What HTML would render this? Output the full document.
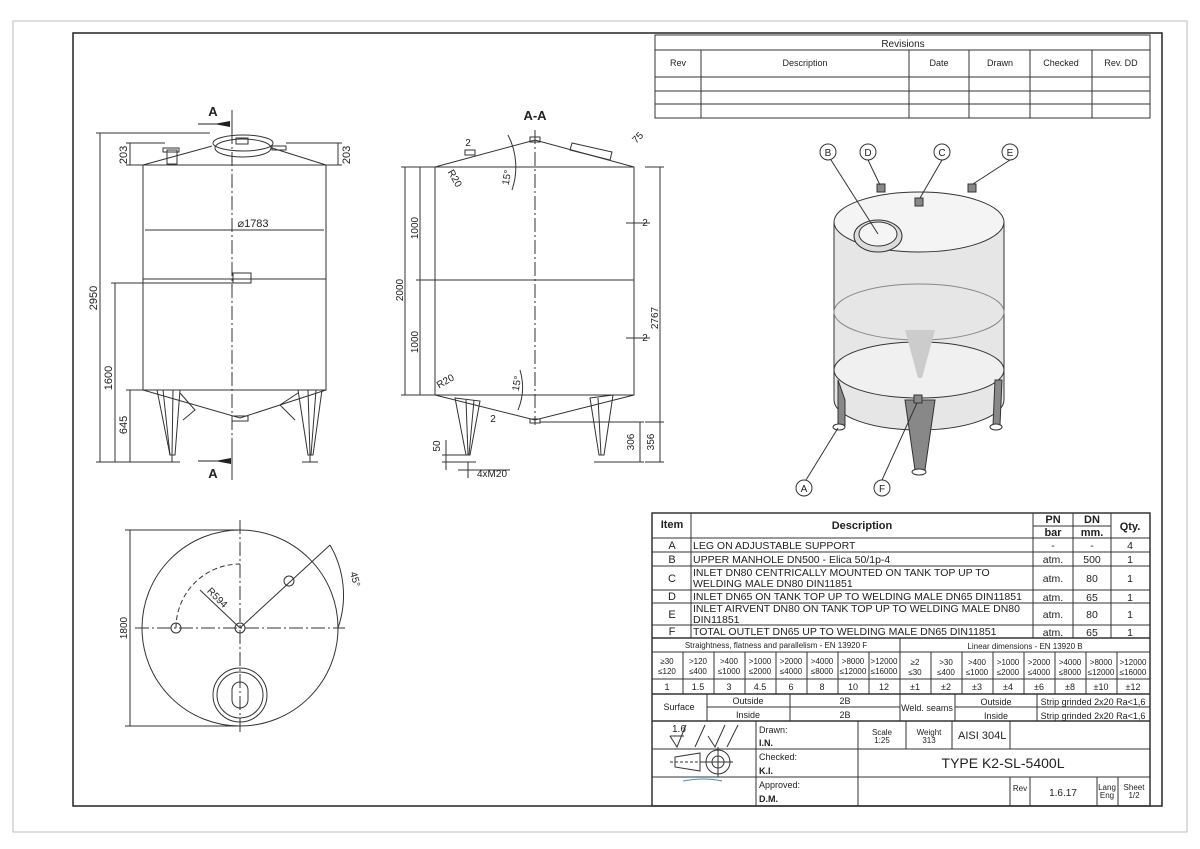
<!DOCTYPE html>
<html><head><meta charset="utf-8"><style>
html,body{margin:0;padding:0;background:#fff}
svg{display:block}
text{font-family:"Liberation Sans",sans-serif;fill:#222}
</style></head><body>
<svg width="1200" height="849" viewBox="0 0 1200 849" xmlns="http://www.w3.org/2000/svg">
<rect x="0" y="0" width="1200" height="849" fill="#fff"/>
<rect x="13" y="21" width="1174" height="811" fill="none" stroke="#bbb" stroke-width="1"/>
<rect x="73" y="33" width="1089" height="773" fill="none" stroke="#222" stroke-width="1.5"/>

<!-- Revisions table -->
<g stroke="#333" stroke-width="1" fill="none">
<rect x="655" y="35" width="495" height="83"/>
<line x1="655" y1="50" x2="1150" y2="50"/>
<line x1="655" y1="77" x2="1150" y2="77"/>
<line x1="655" y1="91" x2="1150" y2="91"/>
<line x1="655" y1="104" x2="1150" y2="104"/>
<line x1="701" y1="50" x2="701" y2="118"/>
<line x1="909" y1="50" x2="909" y2="118"/>
<line x1="969" y1="50" x2="969" y2="118"/>
<line x1="1030" y1="50" x2="1030" y2="118"/>
<line x1="1092" y1="50" x2="1092" y2="118"/>
</g>
<g font-size="9" text-anchor="middle">
<text x="903" y="47" font-size="10">Revisions</text>
<text x="678" y="66">Rev</text><text x="805" y="66">Description</text>
<text x="939" y="66">Date</text><text x="1000" y="66">Drawn</text>
<text x="1061" y="66">Checked</text><text x="1121" y="66">Rev. DD</text>
</g>

<!-- Front view -->
<g stroke="#333" stroke-width="1" fill="none">
<rect x="143" y="165" width="183" height="225"/>
<line x1="143" y1="279" x2="326" y2="279"/>
<rect x="233" y="273" width="18" height="10"/>
<polyline points="143,165 205,148 212,146"/>
<polyline points="326,165 272,148"/>
<ellipse cx="243" cy="148" rx="28" ry="9"/>
<ellipse cx="243" cy="143" rx="30" ry="8"/>
<rect x="236" y="138" width="12" height="6"/>
<rect x="167" y="150" width="10" height="14"/>
<rect x="163" y="148" width="16" height="4"/>
<rect x="272" y="146" width="14" height="4"/>
<polyline points="143,390 240,418 326,390"/>
<rect x="232" y="416" width="16" height="5"/>
<polygon points="157,390 180,390 175,455 170,455"/>
<line x1="163" y1="390" x2="170" y2="455"/><line x1="173" y1="390" x2="172" y2="455"/>
<polygon points="298,390 322,390 313,455 308,455"/>
<line x1="308" y1="390" x2="310" y2="455"/><line x1="316" y1="390" x2="311" y2="455"/>
<polyline points="180,393 195,410 183,420"/>
<polyline points="298,393 280,405 295,420"/>
<line x1="165" y1="462" x2="180" y2="462"/><line x1="172" y1="455" x2="172" y2="462"/>
<line x1="302" y1="462" x2="318" y2="462"/><line x1="310" y1="455" x2="310" y2="462"/>
<line x1="232" y1="130" x2="232" y2="470" stroke-dasharray="14,3,2,3"/>
<!-- dims -->
<line x1="100" y1="133" x2="100" y2="462"/><line x1="96" y1="133" x2="210" y2="133"/><line x1="96" y1="462" x2="165" y2="462"/>
<line x1="115" y1="283" x2="115" y2="462"/><line x1="111" y1="283" x2="233" y2="283"/>
<line x1="130" y1="390" x2="130" y2="462"/><line x1="126" y1="390" x2="143" y2="390"/>
<line x1="130" y1="143" x2="130" y2="165"/><line x1="126" y1="143" x2="165" y2="143"/><line x1="126" y1="165" x2="143" y2="165"/>
<line x1="338" y1="143" x2="338" y2="165"/><line x1="286" y1="143" x2="342" y2="143"/><line x1="326" y1="165" x2="342" y2="165"/>
<line x1="145" y1="230" x2="324" y2="230"/>
<line x1="232" y1="110" x2="232" y2="135"/><line x1="232" y1="445" x2="232" y2="480"/>
</g>
<polygon points="214,124 230,121 230,127" fill="#222"/>
<polygon points="215,461 231,458 231,464" fill="#222"/>
<line x1="198" y1="124" x2="230" y2="124" stroke="#222"/><line x1="198" y1="461" x2="230" y2="461" stroke="#222"/>
<g font-size="11" text-anchor="middle">
<text x="213" y="116" font-weight="bold" font-size="13">A</text>
<text x="213" y="478" font-weight="bold" font-size="13">A</text>
<text x="253" y="227">⌀1783</text>
<text transform="translate(97,298) rotate(-90)">2950</text>
<text transform="translate(112,378) rotate(-90)">1600</text>
<text transform="translate(127,425) rotate(-90)">645</text>
<text transform="translate(127,155) rotate(-90)">203</text>
<text transform="translate(350,155) rotate(-90)">203</text>
</g>

<!-- Section A-A -->
<g stroke="#333" stroke-width="1" fill="none">
<rect x="435" y="167" width="199" height="228"/>
<line x1="435" y1="280" x2="634" y2="280"/>
<polyline points="435,167 535,140 634,167"/>
<rect x="530" y="137" width="10" height="5"/>
<rect x="465" y="150" width="10" height="5"/>
<polygon points="572,143 612,152 610,160 570,150"/>
<polyline points="435,395 535,420 634,395"/>
<rect x="530" y="419" width="10" height="4"/>
<polygon points="455,398 480,401 470,455 466,455"/>
<line x1="466" y1="400" x2="468" y2="455"/><line x1="474" y1="400" x2="469" y2="455"/>
<polygon points="590,398 613,395 604,455 599,455"/>
<line x1="598" y1="398" x2="601" y2="455"/>
<line x1="462" y1="462" x2="476" y2="462"/><line x1="594" y1="462" x2="610" y2="462"/>
<line x1="535" y1="130" x2="535" y2="425" stroke-dasharray="14,3,2,3"/>
<line x1="405" y1="167" x2="405" y2="395"/><line x1="401" y1="167" x2="435" y2="167"/><line x1="401" y1="395" x2="435" y2="395"/>
<line x1="420" y1="167" x2="420" y2="395"/><line x1="416" y1="280" x2="435" y2="280"/>
<line x1="660" y1="395" x2="660" y2="462"/><line x1="645" y1="167" x2="664" y2="167"/><line x1="660" y1="167" x2="660" y2="395"/>
<line x1="645" y1="422" x2="664" y2="422"/><line x1="645" y1="462" x2="664" y2="462"/>
<line x1="640" y1="422" x2="640" y2="462"/><line x1="540" y1="422" x2="644" y2="422"/><line x1="610" y1="462" x2="644" y2="462"/>
<line x1="446" y1="440" x2="446" y2="470"/><line x1="442" y1="455" x2="470" y2="455"/><line x1="442" y1="462" x2="470" y2="462"/>
<line x1="458" y1="470" x2="510" y2="470"/><line x1="468" y1="462" x2="468" y2="478"/>
<line x1="626" y1="223" x2="650" y2="223"/><line x1="626" y1="338" x2="650" y2="338"/>
<path d="M508,135 A70,70 0 0 1 512,190"/>
<path d="M520,370 A60,60 0 0 1 518,410"/>
</g>
<g font-size="10" text-anchor="middle">
<text x="535" y="120" font-weight="bold" font-size="13">A-A</text>
<text transform="translate(418,228) rotate(-90)">1000</text>
<text transform="translate(418,342) rotate(-90)">1000</text>
<text transform="translate(403,290) rotate(-90)">2000</text>
<text transform="translate(658,318) rotate(-90)">2767</text>
<text transform="translate(634,442) rotate(-90)">306</text>
<text transform="translate(654,442) rotate(-90)">356</text>
<text transform="translate(440,446) rotate(-90)">50</text>
<text x="492" y="477">4xM20</text>
<text transform="translate(452,180) rotate(60)">R20</text>
<text x="447" y="384" transform="rotate(-30 447 384)">R20</text>
<text transform="translate(510,178) rotate(-80)">15°</text>
<text transform="translate(520,384) rotate(-80)">15°</text>
<text x="645" y="226">2</text><text x="645" y="341">2</text>
<text x="640" y="140" transform="rotate(-45 640 140)">75</text>
<text x="468" y="146">2</text><text x="493" y="422">2</text>
</g>

<!-- Top view -->
<g stroke="#333" stroke-width="1" fill="none">
<circle cx="240" cy="628" r="98"/>
<circle cx="240" cy="628" r="5"/><circle cx="176" cy="628" r="5"/><circle cx="289" cy="581" r="5"/>
<path d="M176,628 A64,64 0 0 1 240,564" stroke-dasharray="5,3"/>
<line x1="240" y1="628" x2="200" y2="590"/>
<line x1="240" y1="628" x2="330" y2="545"/>
<line x1="240" y1="520" x2="240" y2="735" stroke-dasharray="14,3,2,3"/>
<line x1="135" y1="628" x2="345" y2="628" stroke-dasharray="14,3,2,3"/>
<circle cx="240" cy="695" r="27"/><circle cx="240" cy="695" r="23"/>
<rect x="232" y="682" width="16" height="26" rx="8"/>
<path d="M330,545 A100,100 0 0 1 338,628"/>
<line x1="130" y1="530" x2="130" y2="726"/><line x1="125" y1="530" x2="240" y2="530"/><line x1="125" y1="726" x2="240" y2="726"/>
</g>
<g font-size="10" text-anchor="middle">
<text transform="translate(127,628) rotate(-90)">1800</text>
<text transform="translate(215,600) rotate(45)">R594</text>
<text transform="translate(352,580) rotate(75)">45°</text>
</g>

<!-- 3D view -->
<g stroke="#333" stroke-width="1">
<path d="M834,222 L834,400 A85,30 0 0 0 1004,400 L1004,222 Z" fill="#e6e6e6"/>
<ellipse cx="919" cy="222" rx="85" ry="30" fill="#f4f4f4"/>
<ellipse cx="919" cy="312" rx="85" ry="28" fill="none" stroke="#888"/>
<ellipse cx="919" cy="370" rx="85" ry="28" fill="#f0f0f0"/>
<ellipse cx="878" cy="236" rx="24" ry="16" fill="#ddd"/>
<ellipse cx="878" cy="234" rx="19" ry="12" fill="#f5f5f5"/>
<polygon points="905,330 935,330 922,378 918,378" fill="#ccc" stroke="none"/>
<polygon points="905,400 935,400 925,470 915,470" fill="#888"/>
<polygon points="838,380 845,400 845,425 838,425" fill="#888"/>
<polygon points="995,380 1002,380 1000,425 993,425" fill="#888"/>
<ellipse cx="919" cy="472" rx="7" ry="3" fill="#fff"/>
<ellipse cx="839" cy="427" rx="6" ry="3" fill="#fff"/>
<ellipse cx="996" cy="427" rx="6" ry="3" fill="#fff"/>
<rect x="877" y="184" width="8" height="8" fill="#888"/>
<rect x="915" y="198" width="8" height="8" fill="#888"/>
<rect x="968" y="184" width="8" height="8" fill="#888"/>
<rect x="914" y="395" width="8" height="8" fill="#888"/>
</g>
<g stroke="#333" fill="none">
<line x1="831" y1="160" x2="878" y2="234"/>
<line x1="868" y1="160" x2="880" y2="185"/>
<line x1="942" y1="160" x2="920" y2="198"/>
<line x1="1010" y1="160" x2="973" y2="184"/>
<line x1="806" y1="480" x2="838" y2="428"/>
<line x1="882" y1="480" x2="917" y2="403"/>
<circle cx="828" cy="152" r="8" fill="#fff"/><circle cx="868" cy="152" r="8" fill="#fff"/>
<circle cx="942" cy="152" r="8" fill="#fff"/><circle cx="1010" cy="152" r="8" fill="#fff"/>
<circle cx="804" cy="488" r="8" fill="#fff"/><circle cx="882" cy="488" r="8" fill="#fff"/>
</g>
<g font-size="10" text-anchor="middle">
<text x="828" y="156">B</text><text x="868" y="156">D</text><text x="942" y="156">C</text>
<text x="1010" y="156">E</text><text x="804" y="492">A</text><text x="882" y="492">F</text>
</g>

<!-- Main table -->
<g stroke="#333" stroke-width="1" fill="none">
<rect x="652" y="513" width="498" height="293" stroke-width="1.5"/>
<line x1="1033" y1="526" x2="1111" y2="526"/>
<line x1="652" y1="538" x2="1150" y2="538"/>
<line x1="652" y1="552" x2="1150" y2="552"/>
<line x1="652" y1="566" x2="1150" y2="566"/>
<line x1="652" y1="590" x2="1150" y2="590"/>
<line x1="652" y1="603" x2="1150" y2="603"/>
<line x1="652" y1="625" x2="1150" y2="625"/>
<line x1="652" y1="638" x2="1150" y2="638" stroke-width="1.5"/>
<line x1="652" y1="652" x2="1150" y2="652"/>
<line x1="652" y1="679" x2="1150" y2="679"/>
<line x1="652" y1="694" x2="1150" y2="694" stroke-width="1.5"/>
<line x1="707" y1="707" x2="900" y2="707"/>
<line x1="955" y1="707" x2="1150" y2="707"/>
<line x1="652" y1="721" x2="1150" y2="721" stroke-width="1.5"/>
<line x1="652" y1="749" x2="1150" y2="749"/>
<line x1="652" y1="777" x2="1150" y2="777"/>
<line x1="691" y1="513" x2="691" y2="638"/>
<line x1="1033" y1="513" x2="1033" y2="638"/>
<line x1="1073" y1="513" x2="1073" y2="638"/>
<line x1="1111" y1="513" x2="1111" y2="638"/>
<line x1="900" y1="638" x2="900" y2="721"/>
<line x1="683" y1="652" x2="683" y2="694"/><line x1="714" y1="652" x2="714" y2="694"/>
<line x1="745" y1="652" x2="745" y2="694"/><line x1="776" y1="652" x2="776" y2="694"/>
<line x1="807" y1="652" x2="807" y2="694"/><line x1="838" y1="652" x2="838" y2="694"/>
<line x1="869" y1="652" x2="869" y2="694"/>
<line x1="931" y1="652" x2="931" y2="694"/><line x1="962" y1="652" x2="962" y2="694"/>
<line x1="993" y1="652" x2="993" y2="694"/><line x1="1024" y1="652" x2="1024" y2="694"/>
<line x1="1055" y1="652" x2="1055" y2="694"/><line x1="1086" y1="652" x2="1086" y2="694"/>
<line x1="1117" y1="652" x2="1117" y2="694"/>
<line x1="707" y1="694" x2="707" y2="721"/><line x1="790" y1="694" x2="790" y2="721"/>
<line x1="955" y1="694" x2="955" y2="721"/><line x1="1037" y1="694" x2="1037" y2="721"/>
<line x1="756" y1="721" x2="756" y2="806"/>
<line x1="858" y1="721" x2="858" y2="806"/>
<line x1="906" y1="721" x2="906" y2="749"/><line x1="952" y1="721" x2="952" y2="749"/>
<line x1="1010" y1="721" x2="1010" y2="749"/>
<line x1="1010" y1="777" x2="1010" y2="806"/><line x1="1030" y1="777" x2="1030" y2="806"/>
<line x1="1097" y1="777" x2="1097" y2="806"/><line x1="1118" y1="777" x2="1118" y2="806"/>
<!-- symbols -->
<polyline points="670,736 677,747 686,725"/><line x1="670" y1="736" x2="684" y2="736"/>
<line x1="695" y1="747" x2="705" y2="725"/>
<polyline points="708,736 715,747 725,725"/><line x1="727" y1="747" x2="738" y2="725"/>
<polygon points="675,757 700,753 700,771 675,767"/>
<circle cx="718" cy="762" r="12"/><circle cx="718" cy="762" r="6"/>
<line x1="703" y1="762" x2="733" y2="762"/><line x1="718" y1="747" x2="718" y2="777"/>
<line x1="670" y1="762" x2="705" y2="762" stroke-dasharray="3,2"/>
<path d="M683,781 Q705,777 722,781" stroke="#4a8fb0"/>
</g>
<g font-size="11">
<g font-weight="bold" text-anchor="middle">
<text x="672" y="528">Item</text><text x="862" y="529">Description</text>
<text x="1053" y="523">PN</text><text x="1092" y="523">DN</text>
<text x="1053" y="536">bar</text><text x="1092" y="536">mm.</text>
<text x="1130" y="530">Qty.</text>
</g>
<g text-anchor="middle">
<text x="672" y="549">A</text><text x="672" y="563">B</text><text x="672" y="582">C</text>
<text x="672" y="600">D</text><text x="672" y="618">E</text><text x="672" y="635">F</text>
</g>
<g font-size="10.5">
<text x="693" y="549">LEG ON ADJUSTABLE SUPPORT</text>
<text x="693" y="563">UPPER MANHOLE DN500 - Elica 50/1p-4</text>
<text x="693" y="576">INLET DN80 CENTRICALLY MOUNTED ON TANK TOP UP TO</text>
<text x="693" y="587">WELDING MALE DN80 DIN11851</text>
<text x="693" y="600">INLET DN65 ON TANK TOP UP TO WELDING MALE DN65 DIN11851</text>
<text x="693" y="612">INLET AIRVENT DN80 ON TANK TOP UP TO WELDING MALE DN80</text>
<text x="693" y="623">DIN11851</text>
<text x="693" y="635">TOTAL OUTLET DN65 UP TO WELDING MALE DN65 DIN11851</text>
</g>
<g text-anchor="middle" font-size="10.5">
<text x="1053" y="549">-</text><text x="1092" y="549">-</text><text x="1130" y="549">4</text>
<text x="1053" y="563">atm.</text><text x="1092" y="563">500</text><text x="1130" y="563">1</text>
<text x="1053" y="582">atm.</text><text x="1092" y="582">80</text><text x="1130" y="582">1</text>
<text x="1053" y="601">atm.</text><text x="1092" y="601">65</text><text x="1130" y="601">1</text>
<text x="1053" y="618">atm.</text><text x="1092" y="618">80</text><text x="1130" y="618">1</text>
<text x="1053" y="636">atm.</text><text x="1092" y="636">65</text><text x="1130" y="636">1</text>
</g>
<g font-size="8" text-anchor="middle">
<text x="776" y="648">Straightness, flatness and parallelism - EN 13920 F</text>
<text x="1025" y="649">Linear dimensions - EN 13920 B</text>
<text x="667" y="664">≥30</text><text x="667" y="674">≤120</text>
<text x="698" y="664">&gt;120</text><text x="698" y="674">≤400</text>
<text x="729" y="664">&gt;400</text><text x="729" y="674">≤1000</text>
<text x="760" y="664">&gt;1000</text><text x="760" y="674">≤2000</text>
<text x="791" y="664">&gt;2000</text><text x="791" y="674">≤4000</text>
<text x="822" y="664">&gt;4000</text><text x="822" y="674">≤8000</text>
<text x="853" y="664">&gt;8000</text><text x="853" y="674">≤12000</text>
<text x="884" y="664">&gt;12000</text><text x="884" y="674">≤16000</text>
<text x="915" y="665">≥2</text><text x="915" y="675">≤30</text>
<text x="946" y="665">&gt;30</text><text x="946" y="675">≤400</text>
<text x="977" y="665">&gt;400</text><text x="977" y="675">≤1000</text>
<text x="1008" y="665">&gt;1000</text><text x="1008" y="675">≤2000</text>
<text x="1039" y="665">&gt;2000</text><text x="1039" y="675">≤4000</text>
<text x="1070" y="665">&gt;4000</text><text x="1070" y="675">≤8000</text>
<text x="1101" y="665">&gt;8000</text><text x="1101" y="675">≤12000</text>
<text x="1133" y="665">&gt;12000</text><text x="1133" y="675">≤16000</text>
<g font-size="9">
<text x="667" y="690">1</text><text x="698" y="690">1.5</text><text x="729" y="690">3</text><text x="760" y="690">4.5</text>
<text x="791" y="690">6</text><text x="822" y="690">8</text><text x="853" y="690">10</text><text x="884" y="690">12</text>
<text x="915" y="690">±1</text><text x="946" y="690">±2</text><text x="977" y="690">±3</text><text x="1008" y="690">±4</text>
<text x="1039" y="690">±6</text><text x="1070" y="690">±8</text><text x="1101" y="690">±10</text><text x="1133" y="690">±12</text>
<text x="679" y="710">Surface</text>
<text x="748" y="704">Outside</text><text x="748" y="718">Inside</text>
<text x="845" y="704">2B</text><text x="845" y="718">2B</text>
<text x="927" y="711">Weld. seams</text>
<text x="996" y="705">Outside</text><text x="996" y="719">Inside</text>
<text x="1093" y="705">Strip grinded 2x20 Ra&lt;1,6</text><text x="1093" y="719">Strip grinded 2x20 Ra&lt;1,6</text>
</g>
<text x="882" y="735">Scale</text><text x="882" y="743">1:25</text>
<text x="929" y="735">Weight</text><text x="929" y="743">313</text>
<text x="1020" y="791">Rev</text>
<text x="1107" y="790">Lang</text><text x="1107" y="798">Eng</text>
<text x="1134" y="790">Sheet</text><text x="1134" y="798">1/2</text>
</g>
<g font-size="9">
<text x="759" y="733">Drawn:</text><text x="759" y="746" font-weight="bold">I.N.</text>
<text x="759" y="760">Checked:</text><text x="759" y="774" font-weight="bold">K.I.</text>
<text x="759" y="788">Approved:</text><text x="759" y="802" font-weight="bold">D.M.</text>
<text x="672" y="732" font-size="10">1.6</text>
</g>
<text x="958" y="739" font-size="11">AISI 304L</text>
<text x="1003" y="768" font-size="14" text-anchor="middle">TYPE K2-SL-5400L</text>
<text x="1063" y="796" font-size="10" text-anchor="middle">1.6.17</text>
</g>
</svg>
</body></html>
